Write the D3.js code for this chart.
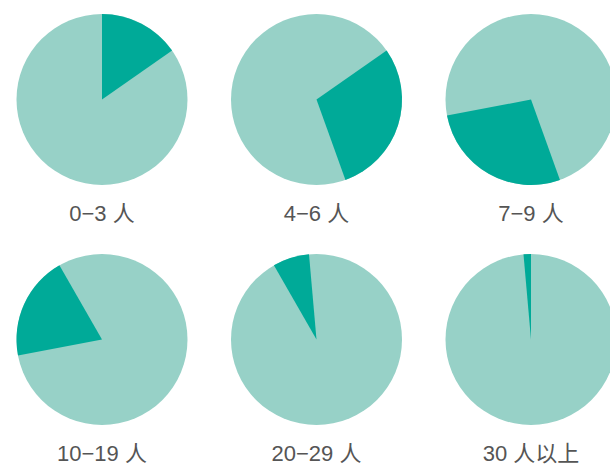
<!DOCTYPE html>
<html>
<head>
<meta charset="utf-8">
<script src="https://cdn.jsdelivr.net/npm/d3@7"></script>
<style>
  html, body { margin: 0; padding: 0; background: #fff; overflow: hidden; }
  svg { display: block; }
</style>
</head>
<body>
<svg id="chart" width="610" height="466"></svg>
<script>
// Data
const categories = ["0−3 人", "4−6 人", "7−9 人", "10−19 人", "20−29 人", "30 人以上"];
const shares = [15.3, 29.2, 27.5, 19.7, 6.9, 1.4];

const svg = d3.select("#chart");

const cols = 3;
const xScale = d3.scaleLinear().domain([0, 2]).range([102, 531]);
const yScale = d3.scaleLinear().domain([0, 1]).range([99.5, 339.5]);
const radius = 85.5;

const darkColor = "#00aa98";
const lightColor = "#97d1c7";

const pie = d3.pie().sort(null).value(d => d);
const arcs = pie(shares);
const arc = d3.arc().innerRadius(0).outerRadius(radius);

categories.forEach((cat, i) => {
  const g = svg.append("g")
    .attr("transform", `translate(${xScale(i % cols)},${yScale(Math.floor(i / cols))})`);

  // the whole (other categories) in light colour
  g.append("circle")
    .attr("r", radius)
    .attr("fill", lightColor);

  // highlighted category slice
  g.append("path")
    .datum(arcs[i])
    .attr("d", arc)
    .attr("fill", darkColor);

  g.append("text")
    .attr("x", 0)
    .attr("y", 121.5)
    .attr("text-anchor", "middle")
    .attr("font-family", "'Liberation Sans', Arial, 'Noto Sans CJK SC', sans-serif")
    .attr("font-size", 22)
    .attr("fill", "#555555")
    .text(cat);
});
</script>
</body>
</html>
